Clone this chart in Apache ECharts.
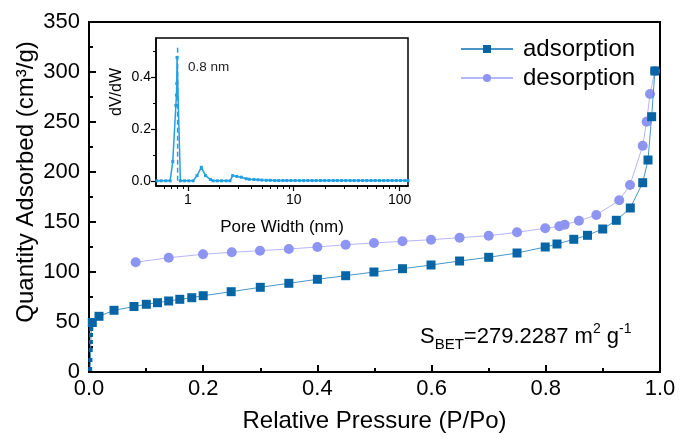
<!DOCTYPE html>
<html><head><meta charset="utf-8">
<script src="https://cdn.jsdelivr.net/npm/echarts@6/dist/echarts.min.js"></script>
<style>html,body{margin:0;padding:0;background:#fff}#c{width:680px;height:445px}</style>
</head><body><div id="c"></div>
<script>
// Adsorption branch (P/Po, cm3/g)
const adsP = [0.002, 0.0025, 0.003, 0.0033, 0.0036, 0.004, 0.0058, 0.0175, 0.0438, 0.0788, 0.1004, 0.120, 0.1395, 0.159, 0.180, 0.200, 0.249, 0.300, 0.350, 0.400, 0.4495, 0.499, 0.549, 0.599, 0.649, 0.700, 0.7496, 0.799, 0.8196, 0.849, 0.873, 0.8997, 0.9235, 0.948, 0.9697, 0.979, 0.9854, 0.991];
const adsV = [3, 12, 22, 30, 37, 43, 49.5, 55.7, 61.7, 65.5, 67.7, 69.3, 71, 72.7, 74.3, 76.3, 80.3, 84.7, 88.7, 92.7, 96.3, 100, 103.3, 107, 111, 114.7, 119, 125, 128, 132.7, 136.7, 143, 151.7, 164, 189.3, 212, 255.3, 301];
// Desorption branch
const desP = [0.0818, 0.1395, 0.1997, 0.250, 0.2995, 0.350, 0.400, 0.4495, 0.499, 0.549, 0.599, 0.649, 0.700, 0.7496, 0.799, 0.8237, 0.833, 0.858, 0.8885, 0.9286, 0.9475, 0.9697, 0.9766, 0.9825, 0.991];
const desV = [109.7, 114.3, 117.7, 119.7, 121.3, 123, 125, 127.3, 129, 130.7, 132.3, 134.3, 136.3, 139.7, 143.7, 145.7, 147.3, 151.3, 157, 171.7, 187, 226.3, 250.3, 278, 301];
// Pore size distribution (inset)
const poreW = [0.51, 0.56, 0.62, 0.68, 0.72, 0.77, 0.78, 0.785, 0.79, 0.85, 0.93, 1.02, 1.12, 1.22, 1.34, 1.47, 1.63, 1.73, 1.90, 2.08, 2.30, 2.50, 2.65, 2.90, 3.20, 3.55, 3.80, 4.2, 4.6, 5.0, 5.5, 6.0, 6.6, 7.2, 7.9, 8.6, 9.4, 10.3, 11.3, 12.4, 13.6, 14.9, 16.3, 17.9, 19.6, 21.5, 23.6, 25.8, 28.3, 31.0, 34.0, 37.2, 40.8, 44.7, 49.0, 53.7, 58.8, 64.5, 70.7, 77.5, 84.9, 93.1, 102, 112, 120];
const poreDV = [0, 0, 0, 0, 0.074, 0.29, 0.33, 0.375, 0.475, 0, 0, 0, 0, 0.02, 0.052, 0.02, 0.005, 0, 0, 0, 0, 0, 0.02, 0.017, 0.014, 0.008, 0.006, 0.005, 0.004, 0.003, 0.002, 0.002, 0.001, 0.001, 0.001, 0.001, 0.001, 0.001, 0.001, 0.001, 0.001, 0.001, 0.001, 0.001, 0.001, 0.001, 0.001, 0.001, 0.001, 0.001, 0.001, 0.001, 0.001, 0.001, 0.001, 0.001, 0.001, 0.001, 0.001, 0.001, 0.001, 0.001, 0.001, 0.001, 0.001];
const peakW = [0.8, 0.8];
const peakDV = [0, 0.52];
const insetXMajor = [1, 10, 100];
const insetXMinor = [0.6, 0.7, 0.8, 0.9, 2, 3, 4, 5, 6, 7, 8, 9, 20, 30, 40, 50, 60, 70, 80, 90];
const insetYMajor = [0, 0.2, 0.4];
const insetYMinor = [0.1, 0.3, 0.5];
const seriesNames = ['adsorption', 'desorption'];

const FF = "'Liberation Sans', Arial, sans-serif";
const chart = echarts.init(document.getElementById('c'), null, {renderer: 'canvas'});
const zip = (a, b) => a.map((v, i) => [v, b[i]]);
const blk = '#000';

chart.setOption({
  animation: false,
  backgroundColor: '#fff',
  textStyle: {fontFamily: FF},
  grid: [
    {left: 89, right: 20, top: 22, bottom: 73, show: true, borderColor: blk, borderWidth: 2},
    {left: 156, right: 272, top: 38, bottom: 259, show: true, borderColor: blk, borderWidth: 1.5, backgroundColor: '#fff'}
  ],
  legend: {
    data: seriesNames, orient: 'vertical', left: 460, top: 37, padding: 0, itemWidth: 52, itemHeight: 10, itemGap: 5,
    textStyle: {fontSize: 24, color: blk, fontFamily: FF, padding: [0, 0, 0, 5]}
  },
  xAxis: [
    {gridIndex: 0, type: 'value', min: 0, max: 1, interval: 0.2, position: 'bottom',
      axisLine: {onZero: false, lineStyle: {color: blk, width: 2}},
      axisTick: {inside: true, length: 7, lineStyle: {color: blk, width: 2}},
      minorTick: {show: true, splitNumber: 2, length: 4, lineStyle: {color: blk, width: 2}},
      splitLine: {show: false},
      axisLabel: {fontSize: 22, color: blk, margin: 6, formatter: v => v.toFixed(1)},
      name: 'Relative Pressure (P/Po)', nameLocation: 'middle', nameGap: 37,
      nameTextStyle: {fontSize: 24, color: blk}},
    {gridIndex: 1, type: 'log', logBase: 10, min: 0.5, max: 120, position: 'bottom',
      axisLine: {onZero: false, lineStyle: {color: blk, width: 1.5}},
      axisTick: {customValues: insetXMajor, length: 5, lineStyle: {color: blk, width: 1.2}},
      axisLabel: {customValues: insetXMajor, fontSize: 14, color: blk, margin: 7, formatter: v => String(v)},
      splitLine: {show: false},
      name: 'Pore Width (nm)', nameLocation: 'middle', nameGap: 33,
      nameTextStyle: {fontSize: 17, color: blk}},
    {gridIndex: 1, type: 'log', logBase: 10, min: 0.5, max: 120, position: 'bottom',
      axisLine: {show: false, onZero: false},
      axisTick: {customValues: insetXMinor, length: 3, lineStyle: {color: blk, width: 1}},
      axisLabel: {show: false}, splitLine: {show: false}}
  ],
  yAxis: [
    {gridIndex: 0, type: 'value', min: 0, max: 350, interval: 50, position: 'left',
      axisLine: {show: true, onZero: false, lineStyle: {color: blk, width: 2}},
      axisTick: {inside: true, length: 7, lineStyle: {color: blk, width: 2}},
      minorTick: {show: true, splitNumber: 2, length: 4, lineStyle: {color: blk, width: 2}},
      splitLine: {show: false},
      axisLabel: {fontSize: 22, color: blk, margin: 9}},
    {gridIndex: 1, type: 'value', min: -0.02, max: 0.55, position: 'left',
      axisLine: {show: true, onZero: false, lineStyle: {color: blk, width: 1.5}},
      axisTick: {customValues: insetYMajor, length: 5, lineStyle: {color: blk, width: 1.2}},
      axisLabel: {customValues: insetYMajor, fontSize: 14, color: blk, margin: 5, formatter: v => v.toFixed(1)},
      splitLine: {show: false}},
    {gridIndex: 1, type: 'value', min: -0.02, max: 0.55, position: 'left',
      axisLine: {show: false, onZero: false},
      axisTick: {customValues: insetYMinor, length: 3, lineStyle: {color: blk, width: 1}},
      axisLabel: {show: false}, splitLine: {show: false}}
  ],
  series: [
    {name: 'adsorption', type: 'line', xAxisIndex: 0, yAxisIndex: 0, data: zip(adsP, adsV),
      symbol: 'rect', symbolSize: v => (v[0] < 0.005 ? 4 : 9),
      itemStyle: {color: '#0765a6'}, lineStyle: {color: '#4a95c6', width: 1}, z: 3},
    {name: 'desorption', type: 'line', xAxisIndex: 0, yAxisIndex: 0, data: zip(desP, desV),
      symbol: 'circle', symbolSize: 10,
      itemStyle: {color: '#8d94f2'}, lineStyle: {color: '#b3b8f7', width: 1}, z: 2},
    {name: 'psd', type: 'line', xAxisIndex: 1, yAxisIndex: 1, data: zip(poreW, poreDV),
      symbol: 'rect', symbolSize: 3, itemStyle: {color: '#229fe6'}, lineStyle: {color: '#229fe6', width: 1.5}, z: 6},
    {name: 'peak', type: 'line', xAxisIndex: 1, yAxisIndex: 1, data: zip(peakW, peakDV),
      symbol: 'none', lineStyle: {color: '#229fe6', width: 1.5, type: [5, 3]}, z: 6}
  ],
  graphic: [
    {type: 'text', x: 26, y: 182, rotation: Math.PI / 2, z: 100,
      style: {text: 'Quantity Adsorbed (cm³/g)', fontSize: 24, fontFamily: FF, fill: blk, align: 'center', verticalAlign: 'middle'}},
    {type: 'text', x: 117, y: 92, rotation: Math.PI / 2, z: 100,
      style: {text: 'dV/dW', fontSize: 16, fontFamily: FF, fill: blk, align: 'center', verticalAlign: 'middle'}},
    {type: 'text', x: 188, y: 67, z: 100,
      style: {text: '0.8 nm', fontSize: 13.5, fontFamily: FF, fill: '#222', align: 'left', verticalAlign: 'middle'}},
    {type: 'text', x: 420, y: 337, z: 100,
      style: {text: '{m|S}{sub|BET}{m|=279.2287 m}{sup|2}{m| g}{sup|-1}', fontFamily: FF, fill: blk,
        align: 'left', verticalAlign: 'middle',
        rich: {
          m: {fontSize: 22, lineHeight: 30, fontFamily: FF, fill: blk},
          sub: {fontSize: 15, lineHeight: 15, verticalAlign: 'bottom', fontFamily: FF, fill: blk},
          sup: {fontSize: 14, lineHeight: 14, verticalAlign: 'top', fontFamily: FF, fill: blk}
        }}}
  ]
});
</script></body></html>
